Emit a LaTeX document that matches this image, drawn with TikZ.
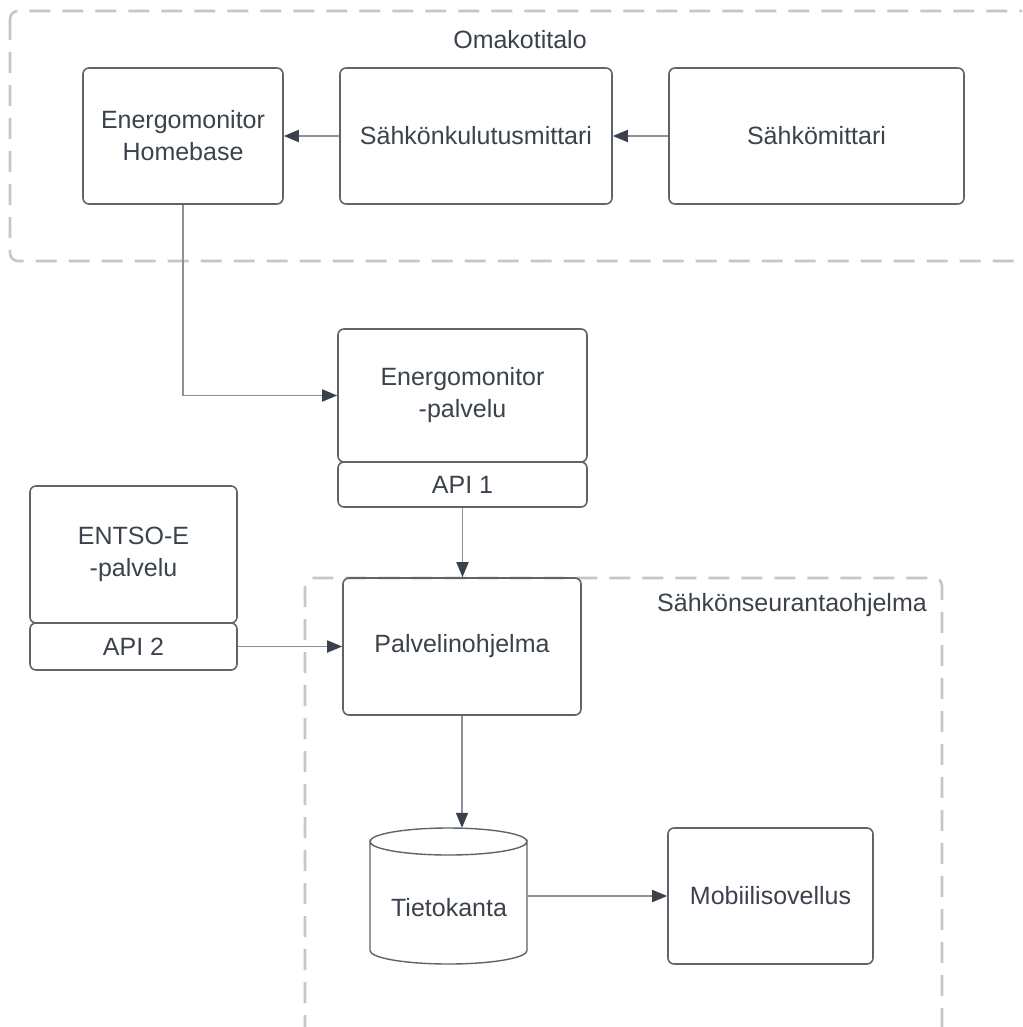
\documentclass[tikz,border=0pt]{standalone}
\usepackage{fontspec}
\setmainfont{Liberation Sans}
\usetikzlibrary{arrows.meta}
\definecolor{boxc}{HTML}{5F646B}
\definecolor{txtc}{HTML}{3B424C}
\definecolor{framec}{HTML}{C3C6CA}
\definecolor{linec}{HTML}{8E9298}
\definecolor{headc}{HTML}{3A414C}
\tikzset{
  box/.style={draw=boxc, line width=1.6pt, rounded corners=6pt, text=txtc,
    font=\fontsize{25}{32}\selectfont, align=center, inner sep=0pt},
  frame/.style={draw=framec, line width=2.6pt, dash pattern=on 21pt off 12pt, rounded corners=8pt},
  flabel/.style={text=txtc, font=\fontsize{25}{30}\selectfont, inner sep=0pt},
  conn/.style={draw=linec, line width=1.8pt, -{Triangle[length=15pt,width=12pt,color=headc]}},
}
\begin{document}
\begin{tikzpicture}[x=1pt,y=-1pt]
\useasboundingbox (0,0) rectangle (1022,1027);
\clip (0,0) rectangle (1022,1027);
% frames
\draw[frame] (10,11) rectangle (1060,261);
\node[flabel] (lab1) at (520,40) {Omakotitalo};
\draw[frame] (305,578) rectangle (942,1070);
\node[flabel, anchor=east] (lab2) at (927,605) {Sähkönseurantaohjelma};
% top row
\node[box, minimum width=200pt, minimum height=136pt] (hb) at (183,136) {Energomonitor\\Homebase};
\node[box, minimum width=272pt, minimum height=136pt] (sk) at (476,136) {Sähkönkulutusmittari};
\node[box, minimum width=295pt, minimum height=136pt] (sm) at (816.5,136) {Sähkömittari};
% energomonitor service
\node[box, minimum width=249pt, minimum height=133pt] (emp) at (462.5,395.5) {Energomonitor\\-palvelu};
\node[box, minimum width=249pt, minimum height=45pt] (api1) at (462.5,484.5) {API 1};
% entso-e
\node[box, minimum width=207pt, minimum height=137pt] (ent) at (133.5,554.5) {ENTSO-E\\-palvelu};
\node[box, minimum width=207pt, minimum height=47pt] (api2) at (133.5,646.5) {API 2};
% server program
\node[box, minimum width=238pt, minimum height=137pt] (pal) at (462,646.5) {Palvelinohjelma};
% database cylinder
\node[minimum width=157pt, minimum height=136pt, inner sep=0pt] (db) at (448.5,896) {};
\draw[draw=boxc, line width=1.4pt, fill=white]
  (370,841.5) -- (370,950.5) arc[start angle=180, end angle=360, x radius=78.5pt, y radius=13.5pt]
  -- (527,841.5) arc[start angle=0, end angle=-180, x radius=78.5pt, y radius=13.5pt] -- cycle;
\draw[draw=boxc, line width=1.4pt] (370,841.5) arc[start angle=180, end angle=360, x radius=78.5pt, y radius=-13.5pt];
\node[text=txtc, font=\fontsize{25}{30}\selectfont, inner sep=0pt] (dbt) at (449,908) {Tietokanta};
% mobile
\node[box, minimum width=205pt, minimum height=136pt] (mob) at (770.5,896) {Mobiilisovellus};
% connectors
\draw[conn] (sk.west) -- (hb.east);
\draw[conn] (sm.west) -- (sk.east);
\draw[conn] (hb.south) |- (emp.west);
\draw[conn] (api1.south) -- (api1.south |- pal.north);
\draw[conn] (api2.east) -- (api2.east -| pal.west);
\draw[conn] (pal.south) -- (pal.south |- db.north);
\draw[conn] (db.east) -- (db.east -| mob.west);
\end{tikzpicture}
\end{document}
